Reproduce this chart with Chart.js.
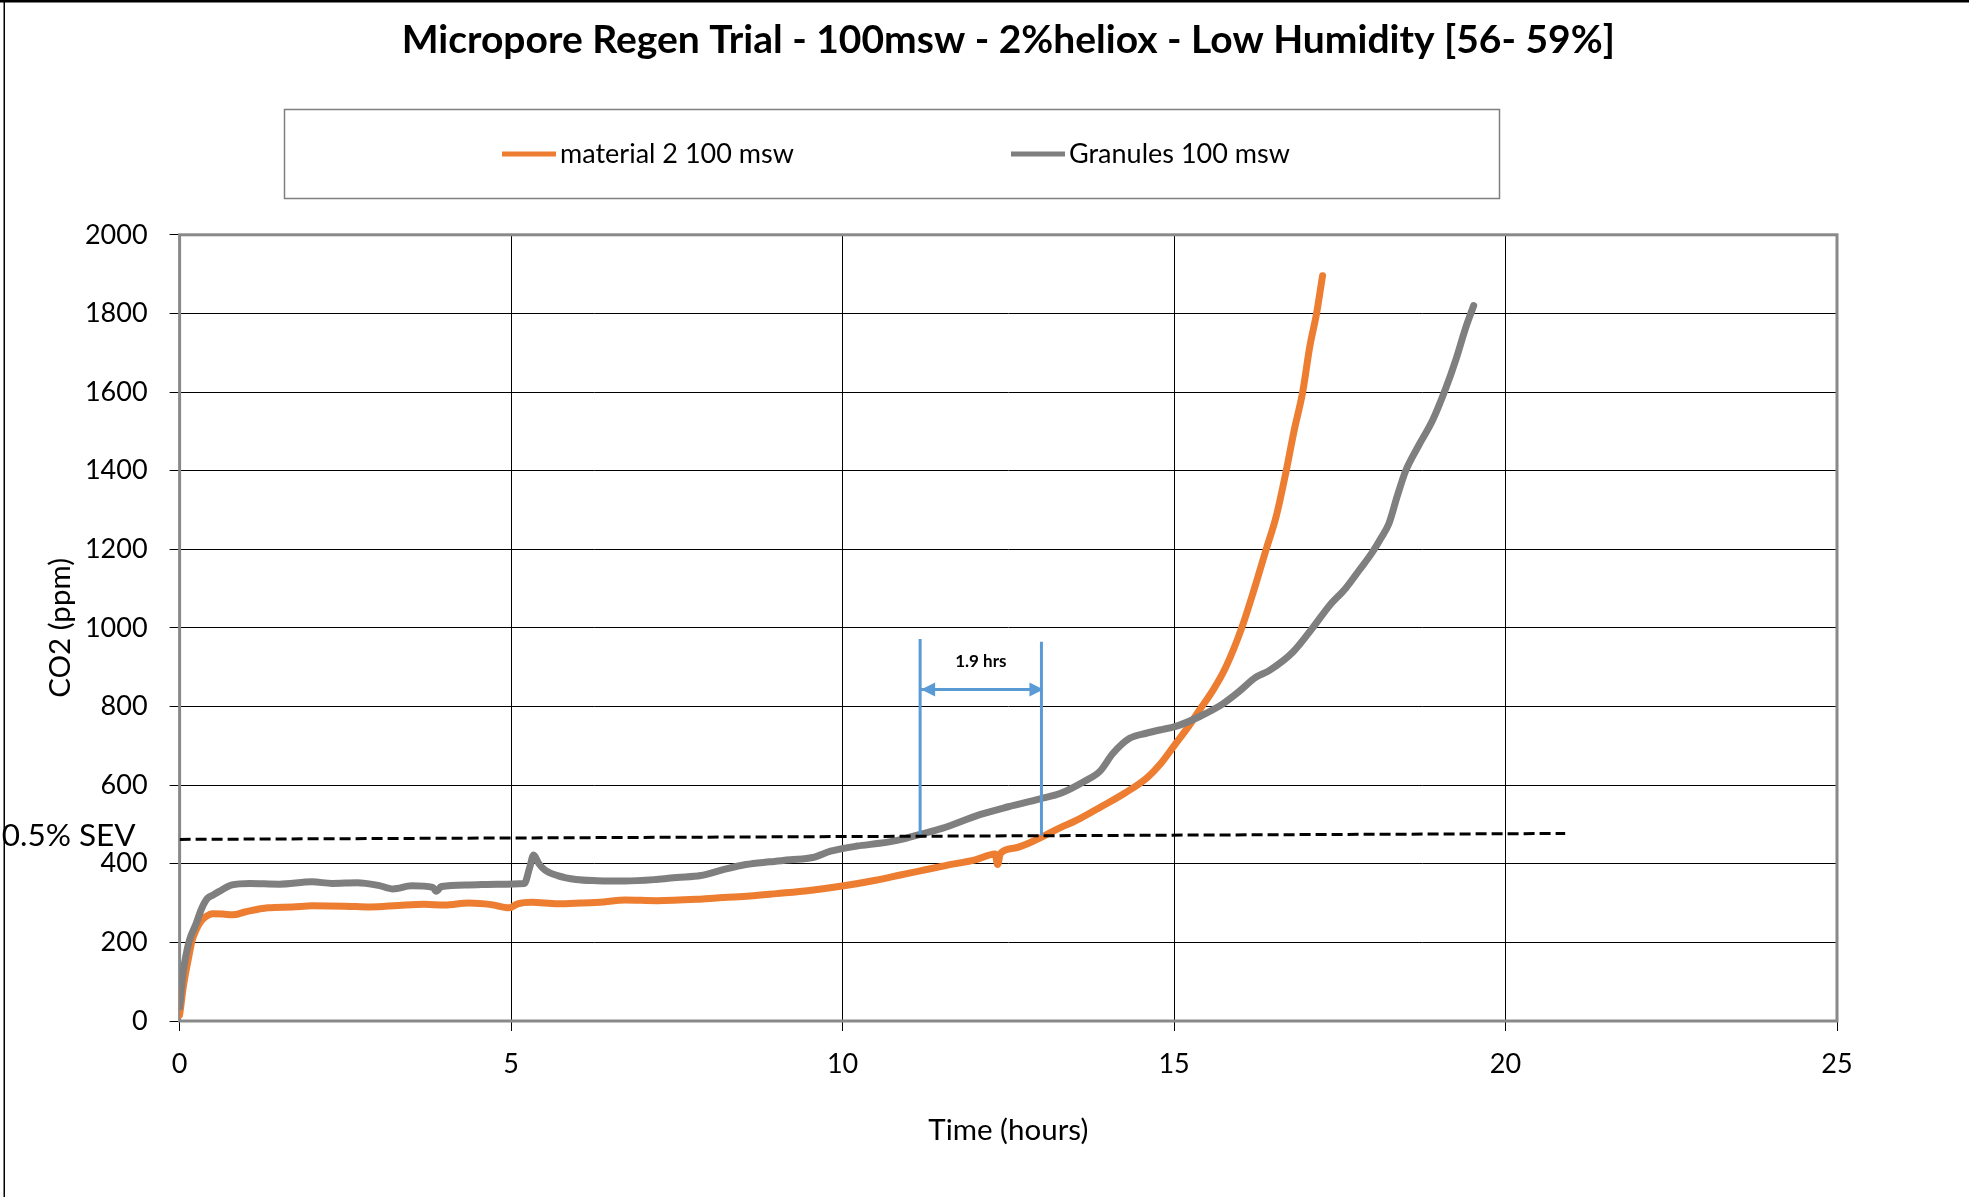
<!DOCTYPE html>
<html><head><meta charset="utf-8">
<script src="https://cdn.jsdelivr.net/npm/chart.js@4.4.1/dist/chart.umd.min.js"></script>
<style>html,body{margin:0;padding:0;background:#fff;overflow:hidden}canvas{display:block}</style>
</head><body>
<canvas id="c" width="1969" height="1197" style="width:1969px;height:1197px"></canvas>
<script>
// ---------- data ----------
const chartTitle = 'Micropore Regen Trial - 100msw - 2%heliox - Low Humidity [56- 59%]';
const xAxisTitle = 'Time (hours)';
const yAxisTitle = 'CO2 (ppm)';
const seriesNames = ['material 2 100 msw', 'Granules 100 msw'];
const xTicks = [0, 5, 10, 15, 20, 25];
const yTicks = [0, 200, 400, 600, 800, 1000, 1200, 1400, 1600, 1800, 2000];

const material2Time = [0,0.02,0.05,0.09,0.14,0.19,0.25,0.32,0.4,0.5,0.65,0.8,1.0,1.33,1.7,2.0,2.5,2.88,3.3,3.69,4.0,4.36,4.7,4.97,5.1,5.31,5.7,6.05,6.4,6.72,7.2,7.85,8.2,8.6,9.0,9.5,10.02,10.5,10.89,11.17,11.57,12.0,12.3,12.34,12.38,12.6,12.91,13.2,13.58,13.9,14.26,14.6,14.8,15.0,15.23,15.38,15.6,15.78,16.01,16.23,16.39,16.54,16.69,16.81,16.94,17.05,17.15,17.24];
const material2CO2 = [15,40,80,121,165,206,232,253,266,273,272,270,278,288,290,293,292,290,294,297,295,300,296,288,298,302,298,300,303,308,306,310,314,318,324,332,344,358,372,382,396,410,425,398,426,440,460,485,515,545,580,620,655,700,752,790,845,900,995,1110,1200,1283,1398,1501,1600,1718,1800,1896];

const granulesTime = [0,0.05,0.1,0.15,0.25,0.33,0.42,0.5,0.59,0.79,1.06,1.5,2.0,2.3,2.68,3.0,3.22,3.5,3.82,3.87,3.95,4.36,4.8,5.2,5.28,5.34,5.42,5.51,5.7,5.98,6.3,6.72,7.19,7.5,7.86,8.2,8.54,8.9,9.21,9.55,9.82,10.22,10.56,10.89,11.17,11.5,12.07,12.5,12.98,13.3,13.65,13.88,14.08,14.33,14.58,14.83,15.0,15.38,15.73,15.98,16.23,16.44,16.79,17.09,17.34,17.59,17.79,17.99,18.12,18.24,18.37,18.49,18.69,18.9,19.1,19.25,19.4,19.52];
const granulesCO2 = [36,121,170,206,248,285,312,320,329,346,350,348,354,350,352,345,336,344,340,330,342,346,348,350,390,422,400,384,370,360,357,356,360,365,370,385,398,405,410,416,432,445,452,462,475,490,525,545,565,580,610,635,681,719,732,742,748,774,806,838,874,892,938,1000,1056,1101,1146,1192,1228,1265,1337,1398,1464,1528,1610,1682,1764,1820];

const sevLabel = '0.5% SEV';
const sevTime = [0, 20.9];
const sevCO2 = [462, 477];

const markerTimes = [11.17, 13.0];
const markerLow = [472, 472];
const markerHigh = [972, 965];
const arrowCO2 = [843, 843];
const gapLabel = '1.9 hrs';
const gapLabelCO2 = 914;

// ---------- build ----------
const FONT = 'Lato';
const TICK_SIZE = 27;
const TITLE_SIZE = 29.5;
const pts = (xs, ys) => xs.map((x, i) => ({x, y: ys[i]}));
const ORANGE = '#ED7D31', GRAY = '#7F7F7F', BLUE = '#5B9BD5';

const datasets = [
  {label: seriesNames[0], data: pts(material2Time, material2CO2), borderColor: ORANGE, backgroundColor: ORANGE,
   borderWidth: 7, order: 3, tension: 0.3, cubicInterpolationMode: 'monotone', borderCapStyle: 'round', borderJoinStyle: 'round'},
  {label: seriesNames[1], data: pts(granulesTime, granulesCO2), borderColor: GRAY, backgroundColor: GRAY,
   borderWidth: 7, order: 2, tension: 0.3, cubicInterpolationMode: 'monotone', borderCapStyle: 'round', borderJoinStyle: 'round'},
  {label: sevLabel, data: pts(sevTime, sevCO2), borderColor: '#000', borderWidth: 3, borderDash: [11, 5], order: 0},
  {label: 'start', data: pts([markerTimes[0], markerTimes[0]], [markerLow[0], markerHigh[0]]), borderColor: BLUE, borderWidth: 3, order: 1},
  {label: 'end', data: pts([markerTimes[1], markerTimes[1]], [markerLow[1], markerHigh[1]]), borderColor: BLUE, borderWidth: 3, order: 1},
  {label: gapLabel, data: pts(markerTimes, arrowCO2), borderColor: BLUE, borderWidth: 3, order: 1}
];
const ARROW_INDEX = 5;

const decorations = {
  id: 'decorations',
  beforeDatasetsDraw(chart) {
    const {ctx, chartArea: a} = chart;
    ctx.save();
    ctx.strokeStyle = '#898989';
    ctx.lineWidth = 3;
    ctx.strokeRect(a.left, a.top, a.right - a.left, a.bottom - a.top);
    ctx.restore();
  },
  afterDatasetsDraw(chart) {
    const {ctx, scales: {x, y}} = chart;
    ctx.save();
    // arrow heads
    const m = chart.getDatasetMeta(ARROW_INDEX).data;
    const L = m[0], R = m[1];
    ctx.fillStyle = BLUE;
    const hl = 14, hw = 7;
    ctx.beginPath();
    ctx.moveTo(L.x + 1, L.y); ctx.lineTo(L.x + 1 + hl, L.y - hw); ctx.lineTo(L.x + 1 + hl, L.y + hw); ctx.closePath(); ctx.fill();
    ctx.beginPath();
    ctx.moveTo(R.x + 2, R.y); ctx.lineTo(R.x + 2 - hl, R.y - hw); ctx.lineTo(R.x + 2 - hl, R.y + hw); ctx.closePath(); ctx.fill();
    // gap label
    ctx.fillStyle = '#000';
    ctx.font = 'bold 17px ' + FONT;
    ctx.textAlign = 'center';
    ctx.textBaseline = 'middle';
    ctx.fillText(gapLabel, x.getPixelForValue((markerTimes[0] + markerTimes[1]) / 2), y.getPixelForValue(gapLabelCO2));
    // SEV label
    ctx.font = '31.5px ' + FONT;
    ctx.textAlign = 'right';
    ctx.fillText(sevLabel, x.left - 44, y.getPixelForValue(sevCO2[0]) - 4);
    ctx.restore();
  },
  afterDraw(chart) {
    const {ctx} = chart;
    ctx.save();
    // outer frame
    ctx.fillStyle = '#000';
    ctx.fillRect(0, 0, chart.width, 2.5);
    ctx.fillRect(3.5, 0, 1.5, chart.height);
    // legend
    const box = {l: 284.5, t: 109.5, w: 1215, h: 89};
    ctx.strokeStyle = '#7f7f7f';
    ctx.lineWidth = 1.5;
    ctx.strokeRect(box.l, box.t, box.w, box.h);
    const itemX = [502, 1011];
    const cy = box.t + box.h / 2;
    ctx.font = '27px ' + FONT;
    ctx.textBaseline = 'middle';
    ctx.textAlign = 'left';
    [0, 1].forEach((di, k) => {
      const ds = chart.data.datasets[di];
      ctx.strokeStyle = ds.borderColor;
      ctx.lineWidth = 5;
      ctx.lineCap = 'butt';
      ctx.beginPath(); ctx.moveTo(itemX[k], cy); ctx.lineTo(itemX[k] + 54, cy); ctx.stroke();
      ctx.fillStyle = '#000';
      ctx.fillText(ds.label, itemX[k] + 58, cy);
    });
    ctx.restore();
  }
};

Chart.defaults.font.family = FONT;
Chart.defaults.color = '#000';

new Chart(document.getElementById('c'), {
  type: 'scatter',
  data: {datasets},
  options: {
    responsive: false,
    devicePixelRatio: 1,
    animation: false,
    showLine: true,
    elements: {point: {radius: 0, hoverRadius: 0}, line: {fill: false}},
    layout: {padding: {left: 0, right: 132, top: 0, bottom: 0}},
    plugins: {
      legend: {display: false},
      tooltip: {enabled: false},
      title: {
        display: true, text: chartTitle, fullSize: false, color: '#000',
        font: {size: 39, weight: 'bold', family: FONT, lineHeight: 1.2},
        padding: {top: 17, bottom: 171}
      }
    },
    scales: {
      x: {
        type: 'linear', min: 0, max: 25,
        afterBuildTicks: s => { s.ticks = xTicks.map(v => ({value: v})); },
        afterFit: s => { s.height = 176; },
        grid: {color: '#000', lineWidth: 1, tickLength: 10, tickColor: '#000'},
        border: {display: false},
        ticks: {font: {size: TICK_SIZE}, padding: 17, color: '#000', maxRotation: 0, callback: v => String(v)},
        title: {display: true, text: xAxisTitle, font: {size: TITLE_SIZE}, color: '#000', padding: {top: 0, bottom: 49}}
      },
      y: {
        type: 'linear', min: 0, max: 2000,
        afterBuildTicks: s => { s.ticks = yTicks.map(v => ({value: v})); },
        afterFit: s => { s.width = 179.6; },
        grid: {color: '#000', lineWidth: 1, tickLength: 10, tickColor: '#000'},
        border: {display: false},
        ticks: {font: {size: TICK_SIZE}, padding: 22, color: '#000', callback: v => String(v)},
        title: {display: true, text: yAxisTitle, font: {size: TITLE_SIZE}, color: '#000', padding: {top: 43, bottom: 0}}
      }
    }
  },
  plugins: [decorations]
});
</script>
</body></html>
